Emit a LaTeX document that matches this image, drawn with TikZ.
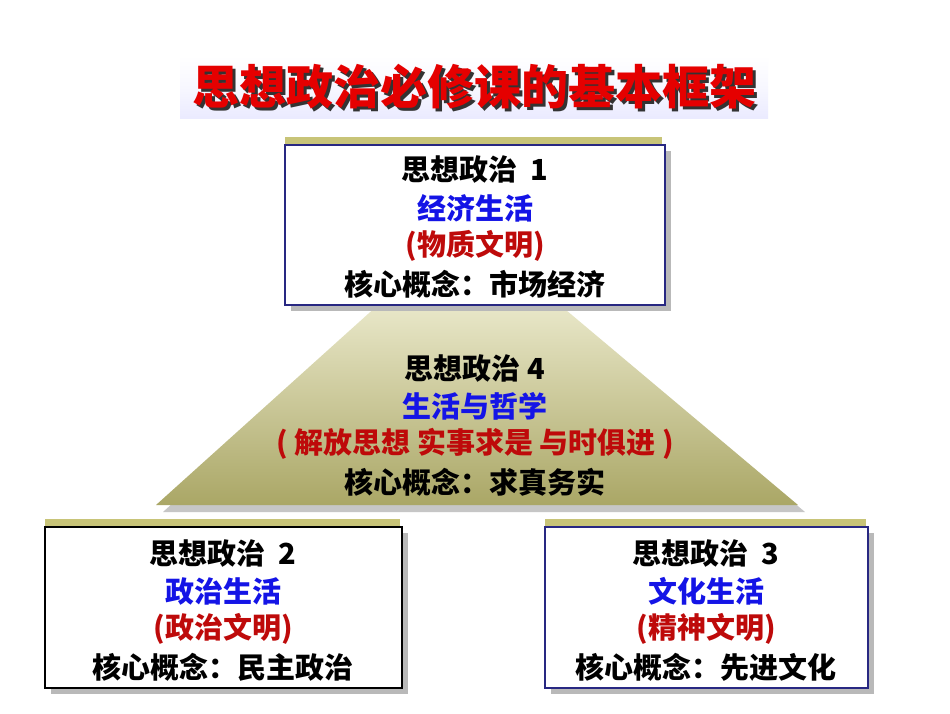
\documentclass[tikz,border=0pt]{standalone}
\usepackage{fontspec}
\setmainfont{Noto Sans CJK SC}
\usetikzlibrary{shadings}
\definecolor{olive}{RGB}{200,196,120}
\definecolor{boxblue}{RGB}{40,40,130}
\definecolor{tblue}{RGB}{20,20,230}
\definecolor{tred}{RGB}{190,10,10}
\tikzset{
 box/.style={draw=#1,line width=1.6pt,fill=white},
 bar/.style={fill=olive,draw=none},
 shad/.style={fill=gray!55,draw=none},
 txt/.style={font=\fontsize{29pt}{32pt}\selectfont\bfseries,inner sep=0pt},
 ttl/.style={font=\fontsize{47pt}{50pt}\selectfont\bfseries,inner sep=0pt},
}
\begin{document}
\begin{tikzpicture}[x=1pt,y=-1pt]
\useasboundingbox (0,0) rectangle (950,713);
\fill[white] (0,0) rectangle (950,713);
% title
\shade[top color=white,bottom color=blue!8,middle color=blue!3] (180,55) rectangle (768,118);
\node[ttl,text=black!80] (titleshadow) at (477,90) {思想政治必修课的基本框架};
\node[ttl,text=red!90!black] (title) at (474,87) {思想政治必修课的基本框架};
% triangle
\fill[gray!45] (385,311) -- (566,311) -- (805,512) -- (163,512) -- cycle;
\shade[top color=olive!40!white,bottom color=olive!85!black] (378,305) -- (560,305) -- (798,505) -- (156,505) -- cycle;
% box1
\fill[shad] (291,151) rectangle (671,311);
\fill[bar] (285,137) rectangle (662,147);
\draw[box=boxblue] (285,145) rectangle (665,305);
% box2
\fill[shad] (51,533) rectangle (408,694);
\fill[bar] (45,519) rectangle (400,529);
\draw[box=black] (45,527) rectangle (402,688);
% box3
\fill[shad] (551,533) rectangle (874,694);
\fill[bar] (545,519) rectangle (866,529);
\draw[box=boxblue] (545,527) rectangle (868,688);
% texts
\node[txt] (a1) at (475,170) {思想政治\ \ 1};
\node[txt,text=tblue] (a2) at (475,208) {经济生活};
\node[txt,text=tred] (a3) at (475,246) {(物质文明)};
\node[txt] (a4) at (475,284) {核心概念：市场经济};
\node[txt] (d1) at (475,368) {思想政治 4};
\node[txt,text=tblue] (d2) at (475,406) {生活与哲学};
\node[txt,text=tred] (d3) at (475,444) {( 解放思想\ 实事求是\ 与时俱进 )};
\node[txt] (d4) at (475,482) {核心概念：求真务实};
\node[txt] (b1) at (223,553) {思想政治\ \ 2};
\node[txt,text=tblue] (b2) at (223,591) {政治生活};
\node[txt,text=tred] (b3) at (223,629) {(政治文明)};
\node[txt] (b4) at (223,667) {核心概念：民主政治};
\node[txt] (c1) at (706,553) {思想政治\ \ 3};
\node[txt,text=tblue] (c2) at (706,591) {文化生活};
\node[txt,text=tred] (c3) at (706,629) {(精神文明)};
\node[txt] (c4) at (706,667) {核心概念：先进文化};
\end{tikzpicture}
\end{document}
